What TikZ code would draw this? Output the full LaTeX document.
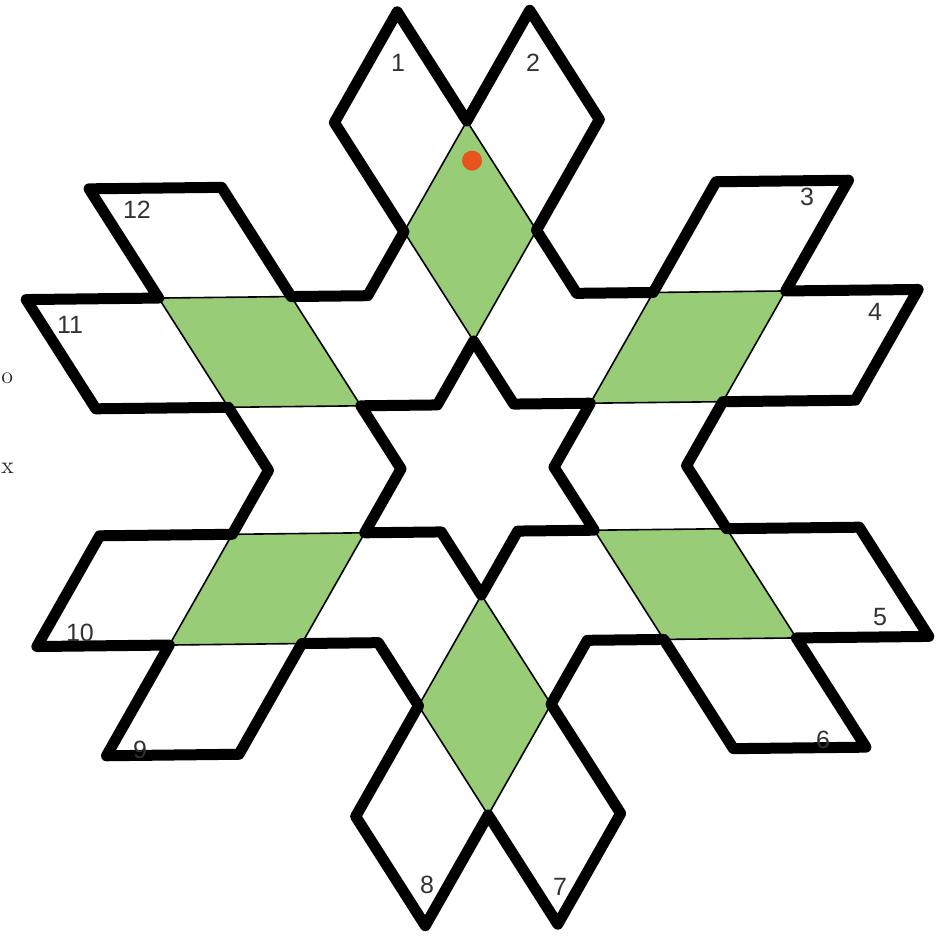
\documentclass[tikz,border=0pt]{standalone}
\usepackage{fontspec}
\newfontfamily\labelfont{Liberation Sans}
\definecolor{leaf}{RGB}{153,204,119}
\definecolor{dotred}{RGB}{232,84,30}
\tikzset{
  outline/.style={draw=black, line width=5.5pt, line join=round},
  greenrh/.style={fill=leaf, draw=black, line width=0.8pt, line join=round},
  numlbl/.style={font=\labelfont\fontsize{12.5}{14}\selectfont, text=black!80, inner sep=0pt},
  strayl/.style={font=\fontsize{12}{14}\selectfont, text=black!85, inner sep=0pt, anchor=west}
}
\begin{document}
\begin{tikzpicture}[x=0.5pt,y=0.5pt]
\useasboundingbox (0,0) rectangle (951,938);
\fill[white] (0,0) rectangle (951,938);
\begin{scope}[shift={(238.75pt,235pt)}, x={(66.25pt,0.75pt)}, y={(-1.95pt,63.5pt)}]
  % green rhombi
  \foreach \a in {0,-60,-120,-180,-240,-300} {
    \path[greenrh] (\a+90:1) -- (\a+75:1.93185) -- (\a+90:2.73205) -- (\a+105:1.93185) -- cycle;
  }
  % outer boundary
  \path[outline] (90:2.73205)
    \foreach \a in {0,-60,-120,-180,-240,-300} {
      -- (\a+82.0885:3.63265) -- (\a+69.8961:2.90931) -- (\a+75:1.93185)
      -- (\a+60:1.57735) -- (\a+45:1.93185) -- (\a+50.1039:2.90931)
      -- (\a+37.9115:3.63265) -- (\a+30:2.73205)
    } -- cycle;
  % central hexagram
  \path[outline] (90:1)
    \foreach \a in {0,-60,-120,-180,-240,-300} {
      -- (\a+60:0.57735) -- (\a+30:1)
    } -- cycle;
  % red dot
  \fill[dotred] (0.03,2.42) circle[radius=5pt];
\end{scope}
% labels
\node[numlbl] (n1) at (398,875) {1};
\node[numlbl] (n2) at (533,875) {2};
\node[numlbl] (n3) at (807,741) {3};
\node[numlbl] (n4) at (875,626) {4};
\node[numlbl] (n5) at (880,321) {5};
\node[numlbl] (n6) at (823,198) {6};
\node[numlbl] (n7) at (560,51) {7};
\node[numlbl] (n8) at (427,53) {8};
\node[numlbl] (n9) at (140,188) {9};
\node[numlbl] (n10) at (80,305) {10};
\node[numlbl] (n11) at (70,613) {11};
\node[numlbl] (n12) at (137,728) {12};
% stray letters at the left edge
\node[strayl] (so) at (1,560) {o};
\node[strayl] (sx) at (1,470) {x};
\end{tikzpicture}
\end{document}
